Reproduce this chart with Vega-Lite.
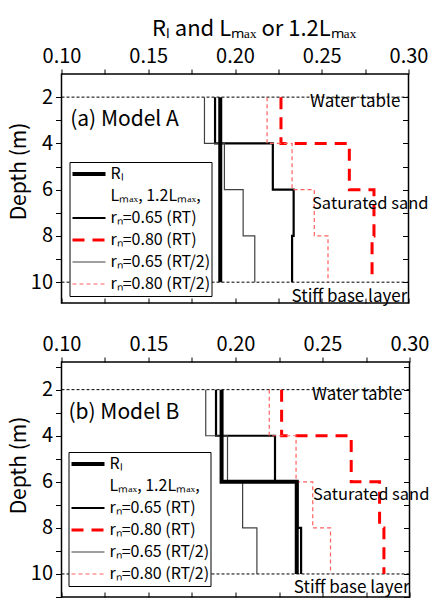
{
  "$schema": "https://vega.github.io/schema/vega-lite/v6.json",
  "padding": {"left": 7.5, "top": 16, "right": 0, "bottom": 0},
  "bounds": "flush",
  "spacing": 59,
  "config": {
    "font": "Noto Sans CJK JP",
    "view": {"stroke": "black", "strokeWidth": 1.5},
    "axis": {"grid": false, "domain": false, "tickColor": "black", "labelColor": "black", "titleColor": "black", "labelFont": "Noto Sans CJK JP", "titleFont": "Noto Sans CJK JP", "labelFontSize": 20, "titleFontSize": 22, "titleFontWeight": "normal", "tickWidth": 1, "labelFlush": false},
    "legend": {"symbolType": "stroke", "symbolSize": 1089, "clipHeight": 22, "rowPadding": 0, "labelFontSize": 16, "labelFont": "Noto Sans CJK JP", "labelColor": "black", "strokeColor": "black", "fillColor": "white", "padding": 1, "labelOffset": 3, "symbolOffset": 0, "labelLimit": 200}
  },
  "datasets": {
    "A": [
      {"series": "rₙ=0.65 (RT)", "depth": 2, "value": 0.1885},
      {"series": "rₙ=0.65 (RT)", "depth": 4, "value": 0.2218},
      {"series": "rₙ=0.65 (RT)", "depth": 6, "value": 0.2338},
      {"series": "rₙ=0.65 (RT)", "depth": 8, "value": 0.2329},
      {"series": "rₙ=0.65 (RT)", "depth": 10, "value": 0.2329},
      {"series": "rₙ=0.80 (RT)", "depth": 2, "value": 0.2265},
      {"series": "rₙ=0.80 (RT)", "depth": 4, "value": 0.2659},
      {"series": "rₙ=0.80 (RT)", "depth": 6, "value": 0.2801},
      {"series": "rₙ=0.80 (RT)", "depth": 8, "value": 0.279},
      {"series": "rₙ=0.80 (RT)", "depth": 10, "value": 0.279},
      {"series": "rₙ=0.65 (RT/2)", "depth": 2, "value": 0.1824},
      {"series": "rₙ=0.65 (RT/2)", "depth": 4, "value": 0.1939},
      {"series": "rₙ=0.65 (RT/2)", "depth": 6, "value": 0.2047},
      {"series": "rₙ=0.65 (RT/2)", "depth": 8, "value": 0.2114},
      {"series": "rₙ=0.65 (RT/2)", "depth": 10, "value": 0.2114},
      {"series": "rₙ=0.80 (RT/2)", "depth": 2, "value": 0.2185},
      {"series": "rₙ=0.80 (RT/2)", "depth": 4, "value": 0.2329},
      {"series": "rₙ=0.80 (RT/2)", "depth": 6, "value": 0.2457},
      {"series": "rₙ=0.80 (RT/2)", "depth": 8, "value": 0.2536},
      {"series": "rₙ=0.80 (RT/2)", "depth": 10, "value": 0.2536},
      {"series": "Rₗ", "depth": 2, "value": 0.1915},
      {"series": "Rₗ", "depth": 4, "value": 0.1915},
      {"series": "Rₗ", "depth": 6, "value": 0.1915},
      {"series": "Rₗ", "depth": 8, "value": 0.1915},
      {"series": "Rₗ", "depth": 10, "value": 0.1915}
    ],
    "B": [
      {"series": "rₙ=0.65 (RT)", "depth": 2, "value": 0.1888},
      {"series": "rₙ=0.65 (RT)", "depth": 4, "value": 0.2227},
      {"series": "rₙ=0.65 (RT)", "depth": 6, "value": 0.2356},
      {"series": "rₙ=0.65 (RT)", "depth": 8, "value": 0.2377},
      {"series": "rₙ=0.65 (RT)", "depth": 10, "value": 0.2377},
      {"series": "rₙ=0.80 (RT)", "depth": 2, "value": 0.2265},
      {"series": "rₙ=0.80 (RT)", "depth": 4, "value": 0.2665},
      {"series": "rₙ=0.80 (RT)", "depth": 6, "value": 0.2828},
      {"series": "rₙ=0.80 (RT)", "depth": 8, "value": 0.2853},
      {"series": "rₙ=0.80 (RT)", "depth": 10, "value": 0.2853},
      {"series": "rₙ=0.65 (RT/2)", "depth": 2, "value": 0.1829},
      {"series": "rₙ=0.65 (RT/2)", "depth": 4, "value": 0.1954},
      {"series": "rₙ=0.65 (RT/2)", "depth": 6, "value": 0.2041},
      {"series": "rₙ=0.65 (RT/2)", "depth": 8, "value": 0.2123},
      {"series": "rₙ=0.65 (RT/2)", "depth": 10, "value": 0.2123},
      {"series": "rₙ=0.80 (RT/2)", "depth": 2, "value": 0.2194},
      {"series": "rₙ=0.80 (RT/2)", "depth": 4, "value": 0.2348},
      {"series": "rₙ=0.80 (RT/2)", "depth": 6, "value": 0.2444},
      {"series": "rₙ=0.80 (RT/2)", "depth": 8, "value": 0.2546},
      {"series": "rₙ=0.80 (RT/2)", "depth": 10, "value": 0.2546},
      {"series": "Rₗ", "depth": 2, "value": 0.192},
      {"series": "Rₗ", "depth": 4, "value": 0.192},
      {"series": "Rₗ", "depth": 6, "value": 0.2352},
      {"series": "Rₗ", "depth": 8, "value": 0.2352},
      {"series": "Rₗ", "depth": 10, "value": 0.2352}
    ]
  },
  "resolve": {"scale": {"x": "independent", "y": "independent", "color": "independent", "strokeDash": "independent", "strokeWidth": "independent"}},
  "vconcat": [
    {
      "width": 347,
      "height": 229,
      "resolve": {"axis": {"x": "independent", "y": "independent"}},
      "layer": [
        {
          "data": {"values": [{"depth": 2}, {"depth": 10}]},
          "mark": {"type": "rule", "strokeDash": [3, 2], "strokeWidth": 1, "color": "black"},
          "encoding": {
            "x": {"datum": 0.1, "type": "quantitative", "scale": {"domain": [0.1, 0.3], "nice": false, "zero": false}, "axis": {"orient": "bottom", "labels": false, "title": null, "values": [0.1, 0.125, 0.15, 0.175, 0.2, 0.225, 0.25, 0.275, 0.3], "tickSize": -5}},
            "x2": {"datum": 0.3},
            "y": {"field": "depth", "type": "quantitative", "scale": {"domain": [1, 10.9], "reverse": true, "nice": false, "zero": false}, "axis": {"orient": "right", "labels": false, "title": null, "values": [2, 3, 4, 5, 6, 7, 8, 9, 10], "tickSize": -6}}
          }
        },
        {
          "data": {"name": "A"},
          "mark": {"type": "line", "interpolate": "step-before"},
          "encoding": {
            "x": {"field": "value", "type": "quantitative", "scale": {"domain": [0.1, 0.3], "nice": false, "zero": false}, "axis": {"orient": "top", "title": "Rₗ and Lₘₐₓ or 1.2Lₘₐₓ", "titleX": 192, "values": [0.1, 0.125, 0.15, 0.175, 0.2, 0.225, 0.25, 0.275, 0.3], "labelExpr": "abs(datum.value*20 - round(datum.value*20)) < 0.001 ? format(datum.value, '.2f') : ''", "tickSize": 5, "labelPadding": 3, "titlePadding": 6}},
            "y": {"field": "depth", "type": "quantitative", "scale": {"domain": [1, 10.9], "reverse": true, "nice": false, "zero": false}, "axis": {"orient": "left", "title": "Depth (m)", "titleFontSize": 21, "titleX": -32, "titleY": 97, "values": [2, 3, 4, 5, 6, 7, 8, 9, 10], "labelExpr": "datum.value % 2 == 0 ? datum.value : ''", "tickSize": 6, "labelPadding": 3}},
            "order": {"field": "depth", "type": "quantitative"},
            "color": {"field": "series", "type": "nominal", "scale": {"domain": ["Rₗ", "Lₘₐₓ, 1.2Lₘₐₓ,", "rₙ=0.65 (RT)", "rₙ=0.80 (RT)", "rₙ=0.65 (RT/2)", "rₙ=0.80 (RT/2)"], "range": ["black", "transparent", "black", "#ff0000", "#404040", "#ff6060"]}, "legend": {"orient": "none", "legendX": 8, "legendY": 88, "title": null}},
            "strokeDash": {"field": "series", "type": "nominal", "scale": {"domain": ["Rₗ", "Lₘₐₓ, 1.2Lₘₐₓ,", "rₙ=0.65 (RT)", "rₙ=0.80 (RT)", "rₙ=0.65 (RT/2)", "rₙ=0.80 (RT/2)"], "range": [[1, 0], [1, 0], [1, 0], [12, 8], [1, 0], [4, 3]]}, "legend": {"orient": "none", "legendX": 8, "legendY": 88, "title": null}},
            "strokeWidth": {"field": "series", "type": "nominal", "scale": {"type": "ordinal", "domain": ["Rₗ", "Lₘₐₓ, 1.2Lₘₐₓ,", "rₙ=0.65 (RT)", "rₙ=0.80 (RT)", "rₙ=0.65 (RT/2)", "rₙ=0.80 (RT/2)"], "range": [4, 0, 2.2, 3, 1.2, 1.2]}, "legend": {"orient": "none", "legendX": 8, "legendY": 88, "title": null}}
          }
        },
        {
          "data": {"values": [{"label": "(a) Model A"}]},
          "mark": {"type": "text", "align": "left", "baseline": "middle", "fontSize": 21, "color": "black"},
          "encoding": {"x": {"datum": 0.105, "type": "quantitative", "axis": null}, "y": {"datum": 3.0, "type": "quantitative", "axis": null}, "text": {"field": "label"}}
        },
        {
          "data": {"values": [{"label": "Water table"}]},
          "mark": {"type": "text", "align": "right", "baseline": "middle", "fontSize": 17, "color": "black"},
          "encoding": {"x": {"datum": 0.2953, "type": "quantitative", "axis": null}, "y": {"datum": 2.2, "type": "quantitative", "axis": null}, "text": {"field": "label"}}
        },
        {
          "data": {"values": [{"label": "Saturated sand"}]},
          "mark": {"type": "text", "align": "left", "baseline": "middle", "fontSize": 16.5, "color": "black"},
          "encoding": {"x": {"datum": 0.2444, "type": "quantitative", "axis": null}, "y": {"datum": 6.6, "type": "quantitative", "axis": null}, "text": {"field": "label"}}
        },
        {
          "data": {"values": [{"label": "Stiff base layer"}]},
          "mark": {"type": "text", "align": "right", "baseline": "middle", "fontSize": 17, "color": "black"},
          "encoding": {"x": {"datum": 0.2993, "type": "quantitative", "axis": null}, "y": {"datum": 10.65, "type": "quantitative", "axis": null}, "text": {"field": "label"}}
        }
      ]
    },
    {
      "width": 348,
      "height": 235,
      "resolve": {"axis": {"x": "independent", "y": "independent"}},
      "layer": [
        {
          "data": {"values": [{"depth": 2}, {"depth": 10}]},
          "mark": {"type": "rule", "strokeDash": [3, 2], "strokeWidth": 1, "color": "black"},
          "encoding": {
            "x": {"datum": 0.1, "type": "quantitative", "scale": {"domain": [0.1, 0.3], "nice": false, "zero": false}, "axis": {"orient": "bottom", "labels": false, "title": null, "values": [0.1, 0.125, 0.15, 0.175, 0.2, 0.225, 0.25, 0.275, 0.3], "tickSize": -5}},
            "x2": {"datum": 0.3},
            "y": {"field": "depth", "type": "quantitative", "scale": {"domain": [0.8, 11], "reverse": true, "nice": false, "zero": false}, "axis": {"orient": "right", "labels": false, "title": null, "values": [1, 2, 3, 4, 5, 6, 7, 8, 9, 10, 11], "tickSize": -6}}
          }
        },
        {
          "data": {"name": "B"},
          "mark": {"type": "line", "interpolate": "step-before"},
          "encoding": {
            "x": {"field": "value", "type": "quantitative", "scale": {"domain": [0.1, 0.3], "nice": false, "zero": false}, "axis": {"orient": "top", "title": null, "values": [0.1, 0.125, 0.15, 0.175, 0.2, 0.225, 0.25, 0.275, 0.3], "labelExpr": "abs(datum.value*20 - round(datum.value*20)) < 0.001 ? format(datum.value, '.2f') : ''", "tickSize": 5, "labelPadding": 3}},
            "y": {"field": "depth", "type": "quantitative", "scale": {"domain": [0.8, 11], "reverse": true, "nice": false, "zero": false}, "axis": {"orient": "left", "title": "Depth (m)", "titleFontSize": 21, "titleX": -32, "titleY": 103, "values": [1, 2, 3, 4, 5, 6, 7, 8, 9, 10, 11], "labelExpr": "datum.value % 2 == 0 ? datum.value : ''", "tickSize": 6, "labelPadding": 3}},
            "order": {"field": "depth", "type": "quantitative"},
            "color": {"field": "series", "type": "nominal", "scale": {"domain": ["Rₗ", "Lₘₐₓ, 1.2Lₘₐₓ,", "rₙ=0.65 (RT)", "rₙ=0.80 (RT)", "rₙ=0.65 (RT/2)", "rₙ=0.80 (RT/2)"], "range": ["black", "transparent", "black", "#ff0000", "#404040", "#ff6060"]}, "legend": {"orient": "none", "legendX": 7, "legendY": 90, "title": null}},
            "strokeDash": {"field": "series", "type": "nominal", "scale": {"domain": ["Rₗ", "Lₘₐₓ, 1.2Lₘₐₓ,", "rₙ=0.65 (RT)", "rₙ=0.80 (RT)", "rₙ=0.65 (RT/2)", "rₙ=0.80 (RT/2)"], "range": [[1, 0], [1, 0], [1, 0], [12, 8], [1, 0], [4, 3]]}, "legend": {"orient": "none", "legendX": 7, "legendY": 90, "title": null}},
            "strokeWidth": {"field": "series", "type": "nominal", "scale": {"type": "ordinal", "domain": ["Rₗ", "Lₘₐₓ, 1.2Lₘₐₓ,", "rₙ=0.65 (RT)", "rₙ=0.80 (RT)", "rₙ=0.65 (RT/2)", "rₙ=0.80 (RT/2)"], "range": [4, 0, 2.2, 3, 1.2, 1.2]}, "legend": {"orient": "none", "legendX": 7, "legendY": 90, "title": null}}
          }
        },
        {
          "data": {"values": [{"label": "(b) Model B"}]},
          "mark": {"type": "text", "align": "left", "baseline": "middle", "fontSize": 21, "color": "black"},
          "encoding": {"x": {"datum": 0.104, "type": "quantitative", "axis": null}, "y": {"datum": 3.0, "type": "quantitative", "axis": null}, "text": {"field": "label"}}
        },
        {
          "data": {"values": [{"label": "Water table"}]},
          "mark": {"type": "text", "align": "right", "baseline": "middle", "fontSize": 17, "color": "black"},
          "encoding": {"x": {"datum": 0.2959, "type": "quantitative", "axis": null}, "y": {"datum": 2.22, "type": "quantitative", "axis": null}, "text": {"field": "label"}}
        },
        {
          "data": {"values": [{"label": "Saturated sand"}]},
          "mark": {"type": "text", "align": "left", "baseline": "middle", "fontSize": 16.5, "color": "black"},
          "encoding": {"x": {"datum": 0.2445, "type": "quantitative", "axis": null}, "y": {"datum": 6.58, "type": "quantitative", "axis": null}, "text": {"field": "label"}}
        },
        {
          "data": {"values": [{"label": "Stiff base layer"}]},
          "mark": {"type": "text", "align": "right", "baseline": "middle", "fontSize": 17, "color": "black"},
          "encoding": {"x": {"datum": 0.3, "type": "quantitative", "axis": null}, "y": {"datum": 10.6, "type": "quantitative", "axis": null}, "text": {"field": "label"}}
        }
      ]
    }
  ]
}
